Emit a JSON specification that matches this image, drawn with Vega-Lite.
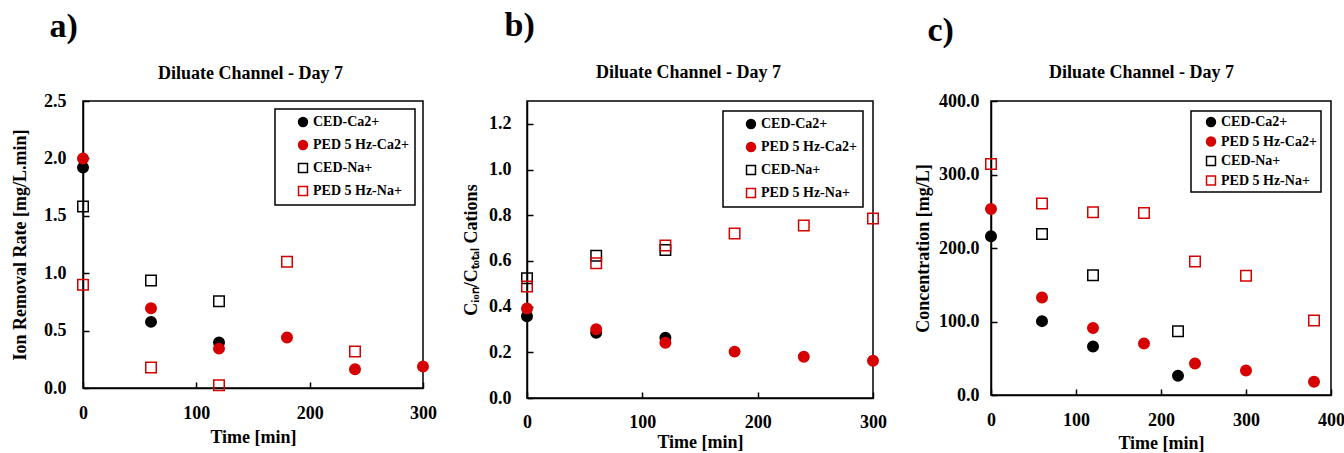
{
  "$schema": "https://vega.github.io/schema/vega-lite/v6.json",
  "padding": {"left": 10, "top": 8, "right": 0, "bottom": 0},
  "config": {
    "font": "Liberation Serif",
    "view": {"stroke": "black", "strokeWidth": 1.5},
    "axis": {
      "grid": false,
      "domainColor": "black",
      "domainWidth": 1.5,
      "tickColor": "black",
      "tickWidth": 1.5,
      "tickSize": -6,
      "labelFont": "Liberation Serif",
      "labelFontSize": 18,
      "labelFontWeight": "bold",
      "labelColor": "black",
      "labelFlush": false,
      "labelOverlap": false,
      "titleFont": "Liberation Serif",
      "titleFontSize": 18,
      "titleFontWeight": "bold",
      "titleColor": "black"
    },
    "axisX": {"labelPadding": 22, "titlePadding": 6},
    "axisY": {"labelPadding": 23, "titlePadding": 14},
    "legend": {
      "orient": "top-right",
      "offset": 8,
      "strokeColor": "black",
      "strokeWidth": 1.5,
      "fillColor": "white",
      "padding": 6,
      "symbolOffset": 15,
      "rowPadding": 7,
      "labelOffset": 3,
      "labelFont": "Liberation Serif",
      "labelFontSize": 14,
      "labelFontWeight": "bold",
      "labelColor": "black",
      "symbolSize": 80,
      "symbolStrokeWidth": 1.5,
      "title": null
    },
    "title": {"font": "Liberation Serif", "fontWeight": "bold", "color": "black", "fontSize": 34, "anchor": "start", "frame": "bounds"}
  },
  "datasets": {
    "a": [
      {"series": "CED-Ca2+", "time": 0, "value": 1.92},
      {"series": "CED-Ca2+", "time": 60, "value": 0.576},
      {"series": "CED-Ca2+", "time": 120, "value": 0.397},
      {"series": "PED 5 Hz-Ca2+", "time": 0, "value": 2.0},
      {"series": "PED 5 Hz-Ca2+", "time": 60, "value": 0.694},
      {"series": "PED 5 Hz-Ca2+", "time": 120, "value": 0.343},
      {"series": "PED 5 Hz-Ca2+", "time": 180, "value": 0.44},
      {"series": "PED 5 Hz-Ca2+", "time": 240, "value": 0.164},
      {"series": "PED 5 Hz-Ca2+", "time": 300, "value": 0.187},
      {"series": "CED-Na+", "time": 0, "value": 1.58},
      {"series": "CED-Na+", "time": 60, "value": 0.936},
      {"series": "CED-Na+", "time": 120, "value": 0.755},
      {"series": "PED 5 Hz-Na+", "time": 0, "value": 0.9},
      {"series": "PED 5 Hz-Na+", "time": 60, "value": 0.179},
      {"series": "PED 5 Hz-Na+", "time": 120, "value": 0.023},
      {"series": "PED 5 Hz-Na+", "time": 180, "value": 1.1},
      {"series": "PED 5 Hz-Na+", "time": 240, "value": 0.317}
    ],
    "b": [
      {"series": "CED-Ca2+", "time": 0, "value": 0.358},
      {"series": "CED-Ca2+", "time": 60, "value": 0.286},
      {"series": "CED-Ca2+", "time": 120, "value": 0.264},
      {"series": "PED 5 Hz-Ca2+", "time": 0, "value": 0.392},
      {"series": "PED 5 Hz-Ca2+", "time": 60, "value": 0.301},
      {"series": "PED 5 Hz-Ca2+", "time": 120, "value": 0.242},
      {"series": "PED 5 Hz-Ca2+", "time": 180, "value": 0.203},
      {"series": "PED 5 Hz-Ca2+", "time": 240, "value": 0.181},
      {"series": "PED 5 Hz-Ca2+", "time": 300, "value": 0.163},
      {"series": "CED-Na+", "time": 0, "value": 0.524},
      {"series": "CED-Na+", "time": 60, "value": 0.623},
      {"series": "CED-Na+", "time": 120, "value": 0.648},
      {"series": "PED 5 Hz-Na+", "time": 0, "value": 0.488},
      {"series": "PED 5 Hz-Na+", "time": 60, "value": 0.59},
      {"series": "PED 5 Hz-Na+", "time": 120, "value": 0.667},
      {"series": "PED 5 Hz-Na+", "time": 180, "value": 0.72},
      {"series": "PED 5 Hz-Na+", "time": 240, "value": 0.755},
      {"series": "PED 5 Hz-Na+", "time": 300, "value": 0.786}
    ],
    "c": [
      {"series": "CED-Ca2+", "time": 0, "value": 216},
      {"series": "CED-Ca2+", "time": 60, "value": 100.5},
      {"series": "CED-Ca2+", "time": 120, "value": 65.9},
      {"series": "CED-Ca2+", "time": 220, "value": 26.3},
      {"series": "PED 5 Hz-Ca2+", "time": 0, "value": 253},
      {"series": "PED 5 Hz-Ca2+", "time": 60, "value": 132.7},
      {"series": "PED 5 Hz-Ca2+", "time": 120, "value": 91.2},
      {"series": "PED 5 Hz-Ca2+", "time": 180, "value": 70},
      {"series": "PED 5 Hz-Ca2+", "time": 240, "value": 42.9},
      {"series": "PED 5 Hz-Ca2+", "time": 300, "value": 33.2},
      {"series": "PED 5 Hz-Ca2+", "time": 380, "value": 18},
      {"series": "CED-Na+", "time": 60, "value": 218.9},
      {"series": "CED-Na+", "time": 120, "value": 163},
      {"series": "CED-Na+", "time": 220, "value": 86.6},
      {"series": "PED 5 Hz-Na+", "time": 0, "value": 314.3},
      {"series": "PED 5 Hz-Na+", "time": 60, "value": 260.4},
      {"series": "PED 5 Hz-Na+", "time": 120, "value": 248.8},
      {"series": "PED 5 Hz-Na+", "time": 180, "value": 247.5},
      {"series": "PED 5 Hz-Na+", "time": 240, "value": 181.6},
      {"series": "PED 5 Hz-Na+", "time": 300, "value": 162.2},
      {"series": "PED 5 Hz-Na+", "time": 380, "value": 101.4}
    ]
  },
  "spacing": 104,
  "bounds": "flush",
  "resolve": {"scale": {"x": "independent", "y": "independent", "shape": "independent", "fill": "independent", "stroke": "independent"}, "legend": {"shape": "independent", "fill": "independent", "stroke": "independent"}},
  "hconcat": [
    {
      "title": {"text": "a)", "dx": 38, "offset": 20},
      "width": 340,
      "height": 287,
      "data": {"name": "a"},
      "resolve": {"axis": {"x": "independent"}},
      "layer": [
        {
          "mark": {"type": "point", "size": 110, "strokeWidth": 1.5, "opacity": 1},
          "encoding": {
            "x": {"field": "time", "type": "quantitative", "scale": {"domain": [0, 300], "nice": false}, "axis": {"title": "Time [min]", "values": [0, 100, 200, 300], "format": "d"}},
            "y": {"field": "value", "type": "quantitative", "scale": {"domain": [0, 2.5], "nice": false}, "axis": {"title": "Ion Removal Rate [mg/L.min]", "values": [0, 0.5, 1, 1.5, 2, 2.5], "format": ".1f"}},
            "shape": {"field": "series", "type": "nominal", "scale": {"domain": ["CED-Ca2+", "PED 5 Hz-Ca2+", "CED-Na+", "PED 5 Hz-Na+"], "range": ["circle", "circle", "square", "square"]}},
            "fill": {"field": "series", "type": "nominal", "scale": {"domain": ["CED-Ca2+", "PED 5 Hz-Ca2+", "CED-Na+", "PED 5 Hz-Na+"], "range": ["black", "#d60000", "transparent", "transparent"]}},
            "stroke": {"field": "series", "type": "nominal", "scale": {"domain": ["CED-Ca2+", "PED 5 Hz-Ca2+", "CED-Na+", "PED 5 Hz-Na+"], "range": ["black", "#d60000", "black", "#d60000"]}}
          }
        },
        {
          "mark": {"type": "point", "opacity": 0},
          "encoding": {
            "x": {"field": "time", "type": "quantitative", "axis": {"orient": "top", "title": "Diluate Channel - Day 7", "titleFontSize": 18, "labels": false, "ticks": false, "domain": false, "titlePadding": 19, "titleX": 167}}
          }
        }
      ]
    },
    {
      "spacing": 118,
      "bounds": "flush",
      "resolve": {"scale": {"x": "independent", "y": "independent", "shape": "independent", "fill": "independent", "stroke": "independent"}, "legend": {"shape": "independent", "fill": "independent", "stroke": "independent"}},
      "hconcat": [
        {
          "title": {"text": "b)", "dx": 42, "offset": 20},
          "width": 346,
          "height": 297,
          "data": {"name": "b"},
          "resolve": {"axis": {"x": "independent"}},
          "layer": [
            {
              "mark": {"type": "point", "size": 110, "strokeWidth": 1.5, "opacity": 1},
              "encoding": {
                "x": {"field": "time", "type": "quantitative", "scale": {"domain": [0, 300], "nice": false}, "axis": {"title": "Time [min]", "values": [0, 100, 200, 300], "format": "d", "titlePadding": 2, "labelPadding": 21}},
                "y": {"field": "value", "type": "quantitative", "scale": {"domain": [0, 1.3], "nice": false}, "axis": {"title": "Cᵢₒₙ/Cₜₒₜₐₗ Cations", "values": [0, 0.2, 0.4, 0.6, 0.8, 1.0, 1.2], "format": ".1f", "titlePadding": 8, "labelPadding": 22}},
                "shape": {"field": "series", "type": "nominal", "legend": {"offset": 10, "rowPadding": 7}, "scale": {"domain": ["CED-Ca2+", "PED 5 Hz-Ca2+", "CED-Na+", "PED 5 Hz-Na+"], "range": ["circle", "circle", "square", "square"]}},
                "fill": {"field": "series", "type": "nominal", "scale": {"domain": ["CED-Ca2+", "PED 5 Hz-Ca2+", "CED-Na+", "PED 5 Hz-Na+"], "range": ["black", "#d60000", "transparent", "transparent"]}},
                "stroke": {"field": "series", "type": "nominal", "scale": {"domain": ["CED-Ca2+", "PED 5 Hz-Ca2+", "CED-Na+", "PED 5 Hz-Na+"], "range": ["black", "#d60000", "black", "#d60000"]}}
              }
            },
            {
              "mark": {"type": "point", "opacity": 0},
              "encoding": {
                "x": {"field": "time", "type": "quantitative", "axis": {"orient": "top", "title": "Diluate Channel - Day 7", "titleFontSize": 18, "labels": false, "ticks": false, "domain": false, "titlePadding": 20, "titleX": 161}}
              }
            }
          ]
        },
        {
          "title": {"text": "c)", "dx": 13, "offset": 15},
          "width": 340,
          "height": 294,
          "data": {"name": "c"},
          "resolve": {"axis": {"x": "independent"}},
          "layer": [
            {
              "mark": {"type": "point", "size": 110, "strokeWidth": 1.5, "opacity": 1},
              "encoding": {
                "x": {"field": "time", "type": "quantitative", "scale": {"domain": [0, 400], "nice": false}, "axis": {"title": "Time [min]", "values": [0, 100, 200, 300, 400], "format": "d", "titlePadding": 5}},
                "y": {"field": "value", "type": "quantitative", "scale": {"domain": [0, 400], "nice": false}, "axis": {"title": "Concentration [mg/L]", "values": [0, 100, 200, 300, 400], "format": ".1f", "titlePadding": 6, "labelPadding": 18}},
                "shape": {"field": "series", "type": "nominal", "legend": {"offset": 10, "padding": 4, "rowPadding": 3.5, "symbolOffset": 9}, "scale": {"domain": ["CED-Ca2+", "PED 5 Hz-Ca2+", "CED-Na+", "PED 5 Hz-Na+"], "range": ["circle", "circle", "square", "square"]}},
                "fill": {"field": "series", "type": "nominal", "scale": {"domain": ["CED-Ca2+", "PED 5 Hz-Ca2+", "CED-Na+", "PED 5 Hz-Na+"], "range": ["black", "#d60000", "transparent", "transparent"]}},
                "stroke": {"field": "series", "type": "nominal", "scale": {"domain": ["CED-Ca2+", "PED 5 Hz-Ca2+", "CED-Na+", "PED 5 Hz-Na+"], "range": ["black", "#d60000", "black", "#d60000"]}}
              }
            },
            {
              "mark": {"type": "point", "opacity": 0},
              "encoding": {
                "x": {"field": "time", "type": "quantitative", "axis": {"orient": "top", "title": "Diluate Channel - Day 7", "titleFontSize": 18, "labels": false, "ticks": false, "domain": false, "titlePadding": 20, "titleX": 150}}
              }
            }
          ]
        }
      ]
    }
  ]
}
